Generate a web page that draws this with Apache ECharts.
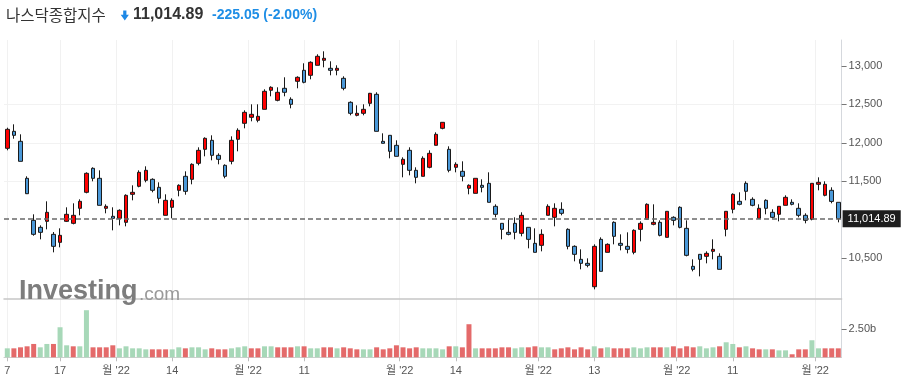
<!DOCTYPE html>
<html><head><meta charset="utf-8">
<script src="https://cdn.jsdelivr.net/npm/echarts@6/dist/echarts.min.js"></script>
<style>html,body{margin:0;padding:0;background:#fff}#c{width:906px;height:387px}</style>
</head><body><div id="c"></div>
<script>
// ---- data ----
const openP = [11930,12151,12021,11540,10994,10903,10981,10812,10708,10981,10955,11150,11358,11670,11540,11150,11046,11020,10968,11332,11436,11514,11527,11423,11059,11163,11384,11566,11527,11735,11917,12034,11839,11709,11761,12047,12255,12333,12294,12437,12684,12554,12710,12567,12801,12944,12879,13009,13074,12970,12944,12840,12528,12359,12385,12515,12632,12021,12099,11969,11722,11904,11644,11566,11683,11969,12190,11917,11683,11631,11410,11345,11449,11475,11176,10955,10838,10955,10825,10903,10695,10669,11059,11033,11137,10877,10656,10487,10435,10131,10747,10578,10968,10695,10656,10578,10877,11007,10942,10968,10773,11033,11163,10890,10396,10552,10526,10591,10526,10877,11137,11241,11475,11267,11020,11254,11098,11072,11189,11228,11150,11059,11007,11462,11319,11384,11228];
const closeP = [12177,12099,11761,11340,10812,10838,11098,10656,10799,11072,11059,11241,11605,11540,11189,11176,11020,11124,11319,11358,11618,11644,11384,11280,11254,11254,11449,11371,11722,11904,12060,11839,11787,11566,12034,12164,12398,12372,12346,12671,12723,12658,12658,12502,12853,12788,13048,13126,13100,12944,12970,12710,12385,12385,12437,12645,12151,11995,11891,11826,11787,11644,11553,11800,11865,12112,12268,11644,11722,11566,11449,11540,11423,11228,11072,10877,10812,10838,11059,10747,10578,10812,11176,11150,11085,10656,10552,10435,10409,10656,10331,10682,10786,10669,10617,10864,10955,11202,10968,10799,11111,10994,10903,10539,10357,10487,10565,10617,10357,11111,11332,11202,11371,11189,11150,11150,11033,11176,11293,11202,11059,10994,11475,11488,11462,11239.94,11014.89];
const lowP = [11904,12055,11761,11336,10794,10747,10877,10578,10643,10972,10942,11059,11345,11501,11189,11085,10864,10929,10916,11254,11423,11488,11358,11215,11059,11020,11306,11327,11462,11709,11826,11774,11722,11540,11722,11891,12190,12281,12268,12437,12606,12541,12606,12450,12710,12775,12827,13009,12983,12879,12879,12684,12359,12346,12359,12476,12151,11995,11800,11826,11553,11579,11475,11566,11670,11969,12177,11618,11618,11501,11332,11345,11358,11228,11033,10747,10799,10747,10786,10630,10578,10591,11059,10916,11059,10617,10461,10357,10383,10097,10331,10578,10682,10604,10565,10552,10721,11007,10929,10786,10773,10929,10890,10526,10331,10266,10435,10487,10357,10786,11085,11189,11254,11176,11020,11072,11020,10981,11189,11189,11033,10955,10994,11384,11306,11215,10968];
const highP = [12198,12242,12112,11566,11072,10929,11241,10842,10890,11163,11215,11267,11618,11683,11644,11202,11163,11137,11332,11449,11644,11696,11540,11488,11332,11280,11462,11631,11735,11943,12073,12099,11865,11722,12086,12190,12424,12502,12502,12697,12736,12723,12853,12593,12866,13035,13061,13152,13191,13061,13009,12866,12541,12489,12502,12650,12658,12125,12099,12034,11813,11943,11683,11826,11904,12138,12268,11956,11748,11761,11462,11540,11527,11618,11202,10955,11020,11033,11098,10903,10890,10877,11202,11215,11228,10890,10669,10617,10500,10682,10773,10695,10981,10812,10838,10877,10981,11215,11202,10994,11111,11046,11176,10994,10487,10552,10591,10747,10565,11111,11345,11358,11501,11293,11202,11267,11137,11176,11319,11267,11215,11085,11475,11553,11501,11423,11228];
// volume in billions, and whether each volume bar is drawn red (1) or green (0)
const volume = [0.80,0.80,0.89,0.98,1.19,0.89,1.19,1.19,2.68,1.07,0.98,0.98,4.20,0.89,0.89,0.89,1.07,0.80,0.98,0.80,0.80,0.71,0.71,0.71,0.71,0.71,0.89,0.80,0.89,0.89,0.71,0.80,0.71,0.71,0.80,0.89,0.98,0.80,0.80,0.98,0.98,0.89,0.89,0.89,0.98,0.98,0.80,0.80,0.89,0.89,0.80,0.89,0.80,0.71,0.71,0.71,0.89,0.71,0.80,1.07,0.89,0.80,0.89,0.80,0.80,0.80,0.71,0.98,0.98,0.89,2.95,0.80,0.80,0.80,0.80,0.89,0.89,0.80,0.89,0.89,0.98,0.89,0.89,0.71,0.80,0.89,0.71,0.89,0.71,0.98,0.80,0.89,0.80,0.80,0.80,0.89,0.80,0.89,0.89,0.89,0.89,0.98,0.80,0.98,0.89,0.98,0.80,0.89,0.98,1.34,1.19,0.89,0.98,0.80,0.71,0.71,0.71,0.62,0.62,0.27,0.71,0.71,1.52,0.80,0.80,0.80,0.80];
const volumeRed = [0,1,1,1,1,0,0,1,0,0,1,0,0,1,1,1,1,0,0,0,0,0,1,1,1,0,0,1,0,0,0,1,1,1,0,0,0,1,1,0,0,1,1,1,0,1,0,0,1,1,0,1,1,1,0,0,1,1,1,1,1,1,1,0,0,0,0,1,0,1,1,0,1,1,1,1,1,0,0,1,1,0,0,1,1,1,1,1,1,0,1,0,1,1,1,0,0,0,1,1,0,1,1,1,1,0,0,0,1,0,0,1,0,1,1,0,1,0,0,1,1,1,0,0,1,1,1];
// x-axis tick labels and their positions (in trading-day index; .5 = between two days)
const tickLabels = ['7','17',"월 '22",'14',"월 '22",'11',"월 '22",'14',"월 '22",'13',"월 '22",'11',"월 '22"];
const tickPositions = [0,8,16.5,25,36.5,45,59.5,68,80.5,89,101.5,110,122.5];
// price-axis and volume-axis labelled values
const priceTickValues = [10500,11500,12000,12500,13000];
const volumeTickValues = [2.5];
const indexName = '나스닥종합지수';

// ---- build ----
const n = openP.length;
const cats = openP.map((_, i) => String(i));
const candleData = openP.map((o, i) => [o, closeP[i], lowP[i], highP[i]]);
const lastClose = closeP[n - 1], prevClose = closeP[n - 2];
const chg = lastClose - prevClose, pct = chg / prevClose * 100;
const fmt2 = v => v.toLocaleString('en-US', {minimumFractionDigits: 2, maximumFractionDigits: 2});
const halfCats = new Array(2 * n + 1).fill('');
tickPositions.forEach((p, k) => { halfCats[Math.round(2 * p + 1)] = tickLabels[k]; });
const showTick = (idx, val) => val !== '';
const volData = volume.map((v, i) => ({value: v, itemStyle: {color: volumeRed[i] ? '#e46a6a' : '#a7d8b8'}}));

const L = 4, R = 64.4;
const chart = echarts.init(document.getElementById('c'), null, {renderer: 'canvas'});
chart.setOption({
  animation: false,
  backgroundColor: '#ffffff',
  textStyle: {fontFamily: 'Liberation Sans, Arial, sans-serif'},
  grid: [
    {left: L, right: R, top: 40, height: 256.8},
    {left: L, right: R, top: 299, height: 58.3},
    {left: L, right: R, top: 40, height: 317.3}
  ],
  xAxis: [
    {gridIndex: 0, type: 'category', data: cats, boundaryGap: true, show: false},
    {gridIndex: 1, type: 'category', data: cats, boundaryGap: true, show: false},
    {gridIndex: 1, type: 'category', data: cats, position: 'top', boundaryGap: true,
      axisLine: {show: true, lineStyle: {color: '#c6c6c6', width: 1.5}},
      axisTick: {show: false}, axisLabel: {show: false}, splitLine: {show: false}},
    {gridIndex: 2, type: 'category', data: halfCats, boundaryGap: false,
      axisLine: {show: true, lineStyle: {color: '#cfcfcf', width: 1}},
      axisTick: {show: true, interval: showTick, length: 4, lineStyle: {color: '#bdbdbd'}},
      axisLabel: {show: true, interval: showTick, color: '#555', fontSize: 11, margin: 8,
        fontFamily: 'Liberation Sans, Noto Sans CJK KR, sans-serif'},
      splitLine: {show: true, interval: showTick, lineStyle: {color: '#f1f1f1', width: 1}}}
  ],
  yAxis: [
    {gridIndex: 0, type: 'value', position: 'right', min: 10000, max: 13337.96, interval: 500,
      axisLine: {show: false},
      axisTick: {show: true, length: 5, customValues: priceTickValues, lineStyle: {color: '#777'}},
      axisLabel: {show: true, margin: 7, color: '#555', fontSize: 11, customValues: priceTickValues,
        formatter: v => priceTickValues.indexOf(v) >= 0 ? v.toLocaleString('en-US') : ''},
      splitLine: {show: true, showMinLine: false, showMaxLine: false, lineStyle: {color: '#f2f2f2', width: 1}}},
    {gridIndex: 1, type: 'value', position: 'right', min: 0, max: 5.2, interval: 2.5,
      axisLine: {show: false},
      axisTick: {show: true, length: 5, customValues: volumeTickValues, lineStyle: {color: '#777'}},
      axisLabel: {show: true, margin: 7, color: '#555', fontSize: 11, customValues: volumeTickValues,
        formatter: v => volumeTickValues.indexOf(v) >= 0 ? v.toFixed(2) + 'b' : ''},
      splitLine: {show: false}},
    {gridIndex: 2, type: 'value', position: 'right', min: 0, max: 1,
      axisLine: {show: true, lineStyle: {color: '#d5d8dd', width: 1}},
      axisTick: {show: false}, axisLabel: {show: false}, splitLine: {show: false}}
  ],
  series: [
    {type: 'candlestick', xAxisIndex: 0, yAxisIndex: 0, data: candleData, barWidth: 4,
      itemStyle: {color: '#ff0000', color0: '#4a98d8', borderColor: '#1a1a1a', borderColor0: '#1a1a1a', borderWidth: 1},
      markLine: {silent: true, symbol: ['none', 'none'], animation: false,
        data: [{yAxis: lastClose}],
        lineStyle: {color: '#6a6a6a', type: [5, 3], width: 1.5},
        label: {show: true, position: 'end', distance: 1, formatter: () => fmt2(lastClose),
          backgroundColor: '#1e1e1e', color: '#fff', fontSize: 11, padding: [3, 5, 3, 5]},
        emphasis: {disabled: true}}
    },
    {type: 'bar', xAxisIndex: 1, yAxisIndex: 1, data: volData, barWidth: 5}
  ],
  graphic: [
    {type: 'text', x: 6, y: 15, style: {text: indexName, fill: '#333', font: '15.5px "Noto Sans CJK KR", sans-serif', verticalAlign: 'middle'}},
    {type: 'polygon', shape: {points: [[123.2,10.5],[126.4,10.5],[126.4,14.8],[128.9,14.8],[124.8,20.5],[120.7,14.8],[123.2,14.8]]}, style: {fill: '#1e88e5'}},
    {type: 'text', x: 133, y: 15, style: {text: fmt2(lastClose), fill: '#333', font: 'bold 16px "Liberation Sans", Arial, sans-serif', verticalAlign: 'middle'}},
    {type: 'text', x: 212, y: 15, style: {text: fmt2(chg) + ' (' + pct.toFixed(2) + '%)', fill: '#1e8ee6', font: 'bold 14px "Liberation Sans", Arial, sans-serif', verticalAlign: 'middle'}},
    {type: 'text', x: 19, y: 292, z: 100, style: {text: 'Investing', fill: '#7d7d7d', font: 'bold 27px "Liberation Sans", Arial, sans-serif', verticalAlign: 'middle'}},
    {type: 'text', x: 139, y: 295, z: 100, style: {text: '.com', fill: '#999', font: '19px "Liberation Sans", Arial, sans-serif', verticalAlign: 'middle'}}
  ]
});
</script>
</body></html>
